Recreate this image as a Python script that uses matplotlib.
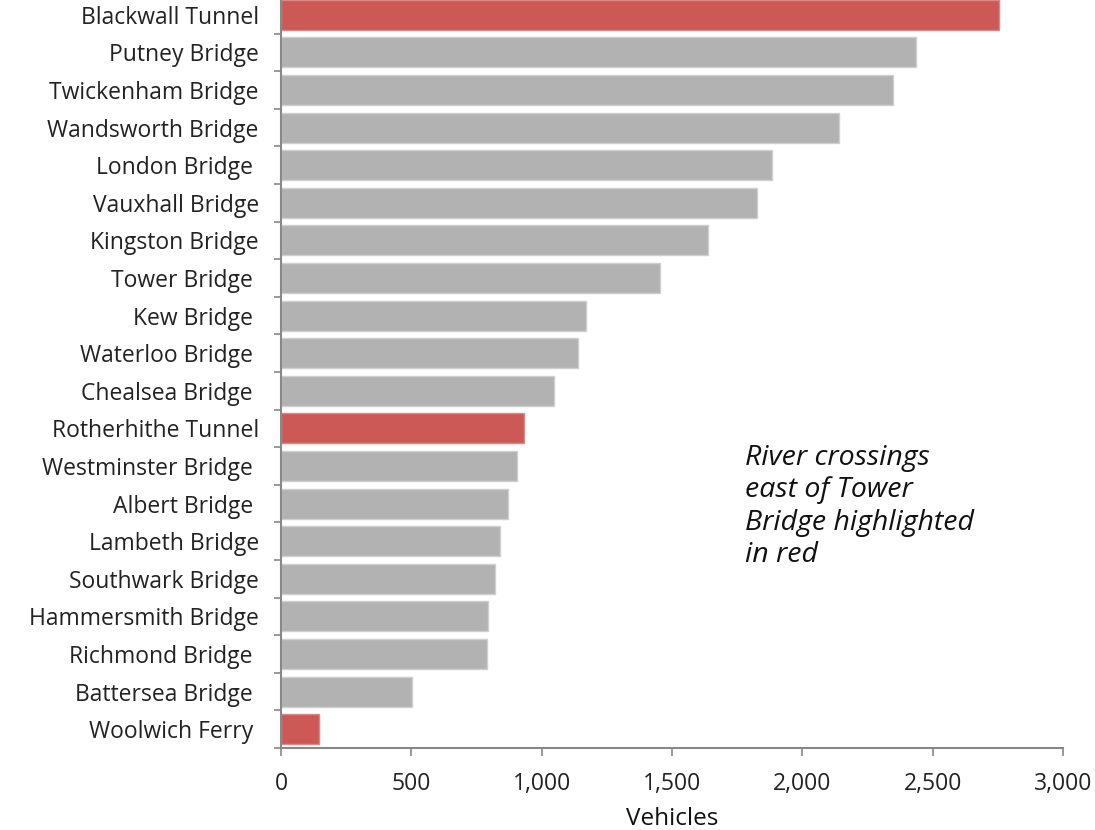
import matplotlib.pyplot as plt
from matplotlib.ticker import FuncFormatter, MultipleLocator, FixedLocator

# Vehicles per crossing, top to bottom
crossings = ['Blackwall Tunnel', 'Putney Bridge', 'Twickenham Bridge', 'Wandsworth Bridge',
             'London Bridge ', 'Vauxhall Bridge', 'Kingston Bridge', 'Tower Bridge ',
             'Kew Bridge ', 'Waterloo Bridge ', 'Chealsea Bridge ', 'Rotherhithe Tunnel',
             'Westminster Bridge ', 'Albert Bridge ', 'Lambeth Bridge', 'Southwark Bridge',
             'Hammersmith Bridge', 'Richmond Bridge ', 'Battersea Bridge ', 'Woolwich Ferry ']
vehicles = [2755, 2437, 2346, 2139, 1885, 1827, 1637, 1455, 1171, 1139,
            1046, 931, 905, 870, 842, 820, 796, 792, 504, 145]
east_of_tower = ['Blackwall Tunnel', 'Rotherhithe Tunnel', 'Woolwich Ferry ']

plt.rcParams['font.family'] = ['Open Sans', 'DejaVu Sans']

fig = plt.figure(figsize=(10.95, 8.3), dpi=100)
W, H = 1095, 830
ax = fig.add_axes([281 / W, 1 - 748 / H, 782 / W, 752 / H])

ypos = list(range(len(crossings)))
colors = ['#cd5957' if c in east_of_tower else '#b2b2b2' for c in crossings]
edges = ['#d88a88' if c in east_of_tower else '#cfcfcf' for c in crossings]
ax.barh(ypos, vehicles, height=0.8, color=colors, edgecolor=edges, linewidth=1)

ax.set_ylim(len(crossings) - 0.5, -0.5)
ax.set_xlim(0, 3000)

ax.set_yticks(ypos)
ax.set_yticklabels(crossings, fontsize=16.5, color='#222222')
ax.tick_params(axis='y', which='major', length=0, pad=16)
ax.yaxis.set_minor_locator(FixedLocator([i + 0.5 for i in range(len(crossings))]))
ax.tick_params(axis='y', which='minor', length=5, width=1.2, color='#888888')

ax.xaxis.set_major_locator(MultipleLocator(500))
ax.xaxis.set_major_formatter(FuncFormatter(lambda v, p: f'{int(v):,}'))
ax.tick_params(axis='x', length=6, width=1.2, color='#888888', labelsize=16.5,
               labelcolor='#222222', pad=11)
ax.set_xlabel('Vehicles', fontsize=17.5, color='#111111', labelpad=8)

for side in ['top', 'right']:
    ax.spines[side].set_visible(False)
for side in ['left', 'bottom']:
    ax.spines[side].set_color('#888888')
    ax.spines[side].set_linewidth(1.5)

# annotation
ax.text(0.593, 0.404, 'River crossings\neast of Tower\nBridge highlighted\nin red',
        transform=ax.transAxes, fontsize=20.5, style='italic', va='top', ha='left',
        linespacing=1.2, color='#111111')

fig.savefig('out.png', dpi=100)
